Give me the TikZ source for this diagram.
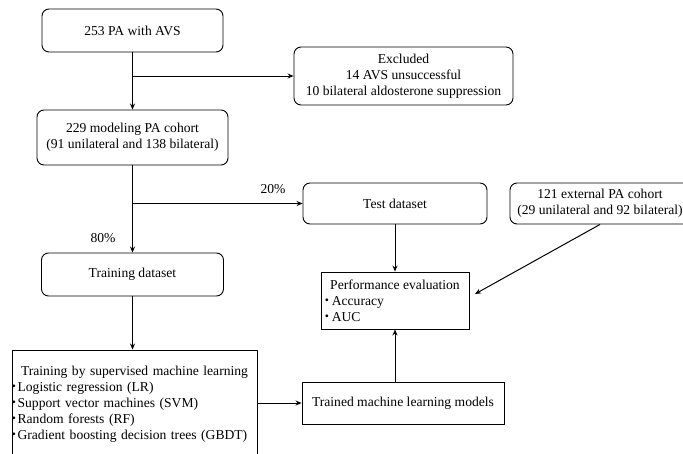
\documentclass[tikz,border=0pt]{standalone}
\usepackage{fontspec}
\setmainfont{Liberation Serif}
\newfontfamily\cjk{Noto Sans CJK JP}
\usetikzlibrary{arrows.meta}
\begin{document}
\begin{tikzpicture}[x=1pt,y=-1pt,
  font=\fontsize{13.6}{16}\selectfont,
  rbox/.style={draw,line width=0.9pt,rounded corners=7pt,align=center,inner sep=0pt},
  sbox/.style={draw,line width=0.9pt,inner sep=0pt},
  arr/.style={line width=1pt,-{Stealth[length=6pt,width=5pt]}},
  lbl/.style={inner sep=0pt}]
\useasboundingbox (0,0) rectangle (683,453);
% rounded boxes
\node[rbox,minimum width=181pt,minimum height=43pt] (avs) at (132.5,30.5) {253 PA with AVS};
\node[rbox,minimum width=219pt,minimum height=58pt] (excl) at (403.5,76) {Excluded\\14 AVS unsuccessful\\10 bilateral aldosterone suppression};
\node[rbox,minimum width=191pt,minimum height=55pt] (model) at (132.5,137.5) {229 modeling PA cohort\\(91 unilateral and 138 bilateral)};
\node[rbox,minimum width=184pt,minimum height=41pt] (test) at (395,203.5) {Test dataset};
\node[rbox,minimum width=180pt,minimum height=41pt] (ext) at (600,203.5) {121 external PA cohort\\(29 unilateral and 92 bilateral)};
\node[rbox,minimum width=182pt,minimum height=43pt] (train) at (132.5,274.5) {Training dataset};
% square boxes
\node[sbox,minimum width=148pt,minimum height=57pt,align=left] (perf) at (395,300.5)
  {Performance evaluation\\\hspace*{-10pt}{\cjk ・}\hspace{-2pt}Accuracy\\\hspace*{-10pt}{\cjk ・}\hspace{-2pt}AUC};
\node[sbox,minimum width=202pt,minimum height=42pt] (trained) at (403,403) {Trained machine learning models};
\node[sbox,text width=245pt,minimum height=108pt,align=left] (sup) at (134.5,404)
  {\makebox[245pt]{Training by supervised machine learning}\\
   \hspace*{-5pt}{\cjk ・}\hspace{-3pt}Logistic regression (LR)\\
   \hspace*{-5pt}{\cjk ・}\hspace{-3pt}Support vector machines (SVM)\\
   \hspace*{-5pt}{\cjk ・}\hspace{-3pt}Random forests (RF)\\
   \hspace*{-5pt}{\cjk ・}\hspace{-3pt}Gradient boosting decision trees (GBDT)};
% labels
\node[lbl] (p20) at (273,189) {20\%};
\node[lbl] (p80) at (103,238) {80\%};
% branch points
\coordinate (b1) at (avs.south |- excl.west);
\coordinate (b2) at (model.south |- test.west);
\coordinate (pe) at (475,294);
% connectors
\draw[arr] (avs.south) -- (model.north);
\draw[arr] (b1) -- (excl.west);
\draw[arr] (model.south) -- (train.north);
\draw[arr] (b2) -- (test.west);
\draw[arr] (train.south) -- (train.south |- sup.north);
\draw[arr] (test.south) -- (perf.north);
\draw[arr] (ext.south) -- (pe);
\draw[arr] (sup.east |- trained.west) -- (trained.west);
\draw[arr] (perf.south |- trained.north) -- (perf.south);
\end{tikzpicture}
\end{document}
